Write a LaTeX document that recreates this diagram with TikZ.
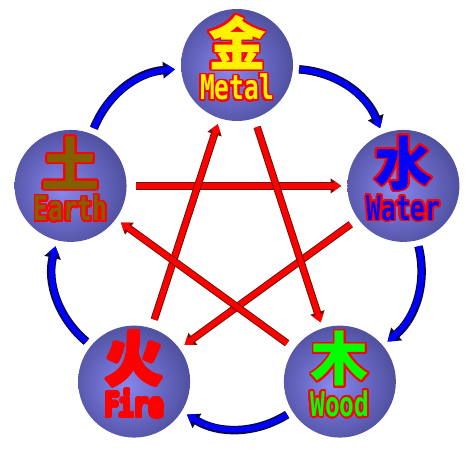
\documentclass[tikz,border=0pt]{standalone}
\usepackage{fontspec}
\usepackage{contour}
\usetikzlibrary{arrows.meta}
\newfontfamily\cjk{Noto Sans CJK SC}
\newfontfamily\lat[FakeStretch=0.72]{DejaVu Sans Mono}
\contourlength{1.6pt}
\contournumber{32}
% Colors
\definecolor{orbLight}{RGB}{136,136,238}
\definecolor{orbMid}{RGB}{94,94,182}
\definecolor{orbDark}{RGB}{56,56,118}
\definecolor{orbEdge}{RGB}{28,28,60}
\definecolor{earthBrown}{RGB}{130,96,0}
\definecolor{keDark}{RGB}{110,20,10}
\definecolor{shengDark}{RGB}{10,10,70}
\pgfdeclareradialshading{orb}{\pgfpoint{-4bp}{-2bp}}{color(0bp)=(orbLight); color(20bp)=(orbMid); color(40bp)=(orbDark); color(49bp)=(orbEdge); color(60bp)=(orbEdge)}
\tikzset{
    % Shapes
    orb/.style={circle, minimum size=112pt, inner sep=0pt, shading=orb},
    zi/.style={font=\cjk\bfseries\fontsize{58}{58}\selectfont, inner sep=0pt},
    en/.style={font=\lat\bfseries\fontsize{34}{34}\selectfont, inner sep=0pt},
    % Flow
    ke/.style={-{Triangle[length=0pt 1.4, width=0pt 1.9]}, line width=5.5pt, red,
               shorten <=9pt, shorten >=6pt,
               preaction={draw=keDark, line width=7.5pt, shorten <=9pt, shorten >=6pt,
                          -{Triangle[length=0pt 1.4, width=0pt 1.9]}}},
    sheng/.style={-{Triangle[length=0pt 1.4, width=0pt 1.9]}, line width=5.5pt, blue,
                  shorten <=6pt, shorten >=6pt,
                  preaction={draw=shengDark, line width=8.5pt, shorten <=6pt, shorten >=6pt,
                             -{Triangle[length=0pt 1.4, width=0pt 1.9]}}}
}
\begin{document}
\begin{tikzpicture}[x=1pt, y=1pt]

\fill[white] (-237,-213) rectangle (233,240);

\foreach \name/\ang/\zi/\en/\col in {metal/90/金/Metal/yellow, water/18/水/Water/blue,
    wood/-54/木/Wood/green, fire/-126/火/Fire/red, earth/162/土/Earth/earthBrown}{
  \node[orb] (\name) at (\ang:175) {};
  \node[zi, text=\col] (\name-zi) at ([yshift=22pt]\name.center) {\contour{red}{\zi}};
  \node[en, text=\col] (\name-en) at ([yshift=-23pt]\name.center) {\contour{red}{\en}};
}

% generating cycle
\draw[sheng] (metal) to[bend left=32] (water);
\draw[sheng] (water) to[bend left=32] (wood);
\draw[sheng] (wood) to[bend left=32] (fire);
\draw[sheng] (fire) to[bend left=32] (earth);
\draw[sheng] (earth) to[bend left=32] (metal);

% controlling cycle
\draw[ke] (earth) -- (water);
\draw[ke] (water) -- (fire);
\draw[ke] (fire) -- (metal);
\draw[ke] (metal) -- (wood);
\draw[ke] (wood) -- (earth);

\end{tikzpicture}
\end{document}
